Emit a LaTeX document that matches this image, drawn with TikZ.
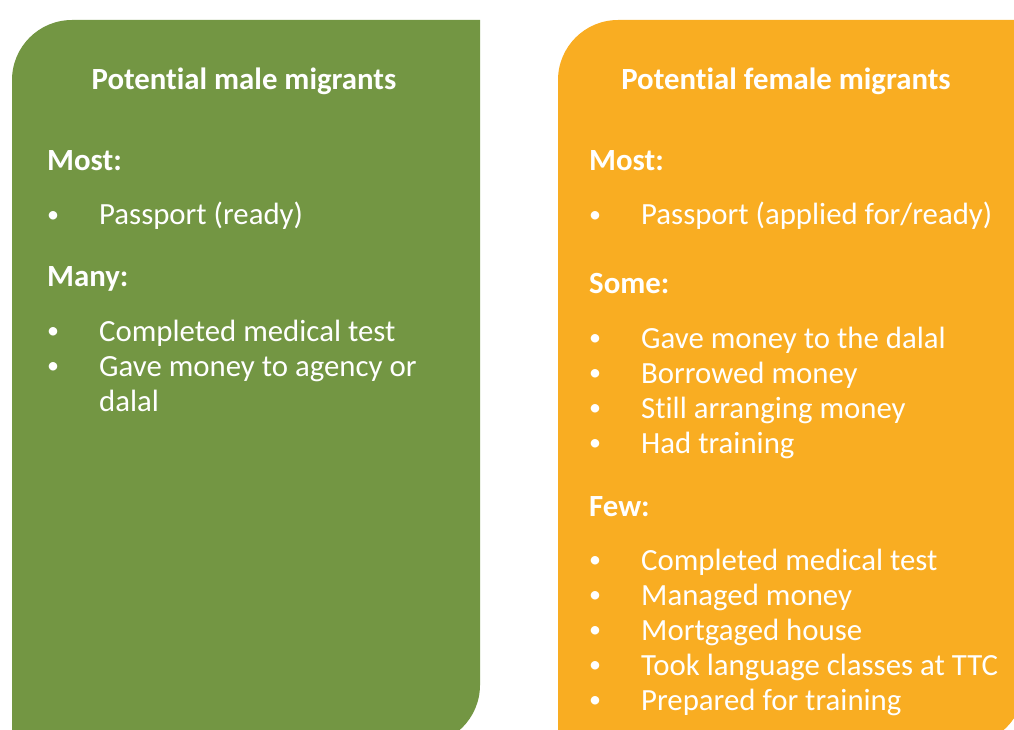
\documentclass[tikz,border=0pt]{standalone}
\usepackage{fontspec}
\setmainfont{Carlito}[Ligatures=NoCommon]
\definecolor{malegreen}{RGB}{115,150,67}
\definecolor{femaleorange}{RGB}{249,173,34}

\begin{document}
\begin{tikzpicture}[x=1pt, y=-1pt,
    every node/.style={text=white, inner sep=0pt, font=\fontsize{30.8}{35}\selectfont},
    title/.style={anchor=base, font=\fontsize{30.8}{35}\selectfont\bfseries},
    head/.style={anchor=base west, font=\fontsize{30.8}{35}\selectfont\bfseries},
    item/.style={anchor=base west},
    bul/.style={anchor=center, font=\fontsize{24}{24}\selectfont}]
    \useasboundingbox (0,0) rectangle (1014,730);
    \clip (0,0) rectangle (1014,730);

    % left panel
    \fill[malegreen] (480,20) -- (72,20) arc[start angle=270, end angle=180, radius=60]
        -- (12,745) -- (420,745) arc[start angle=90, end angle=0, radius=60] -- cycle;
    \node[title] (mt) at (244,90) {Potential male migrants};
    \node[head] (mh1) at (47,171) {Most:};
    \node[bul] at (53,217) {•};
    \node[item] (m1) at (99,225) {Passport (ready)};
    \node[head] (mh2) at (47,286) {Many:};
    \foreach \txt [count=\i from 2] in {Completed medical test, Gave money to agency or} {
        \node[bul] at (53,{333+35*(\i-2)}) {•};
        \node[item] (m\i) at (99,{341+35*(\i-2)}) {\txt};
    }
    \node[item] (m4) at (99,411) {dalal};

    % right panel
    \fill[femaleorange] (1024,20) -- (618,20) arc[start angle=270, end angle=180, radius=60]
        -- (558,745) -- (964,745) arc[start angle=90, end angle=0, radius=60] -- cycle;
    \node[title] (ft) at (786,90) {Potential female migrants};
    \node[head] (fh1) at (589,171) {Most:};
    \node[bul] at (595,217) {•};
    \node[item] (f1) at (641,225) {Passport (applied for/ready)};
    \node[head] (fh2) at (589,293) {Some:};
    \foreach \txt [count=\i] in {Gave money to the dalal, Borrowed money, Still arranging money, Had training} {
        \node[bul] at (595,{340+35*(\i-1)}) {•};
        \node[item] (s\i) at (641,{348+35*(\i-1)}) {\txt};
    }
    \node[head] (fh3) at (589,516) {Few:};
    \foreach \txt [count=\i] in {Completed medical test, Managed money, Mortgaged house, Took language classes at TTC, Prepared for training} {
        \node[bul] at (595,{562+35*(\i-1)}) {•};
        \node[item] (w\i) at (641,{570+35*(\i-1)}) {\txt};
    }
\end{tikzpicture}
\end{document}
